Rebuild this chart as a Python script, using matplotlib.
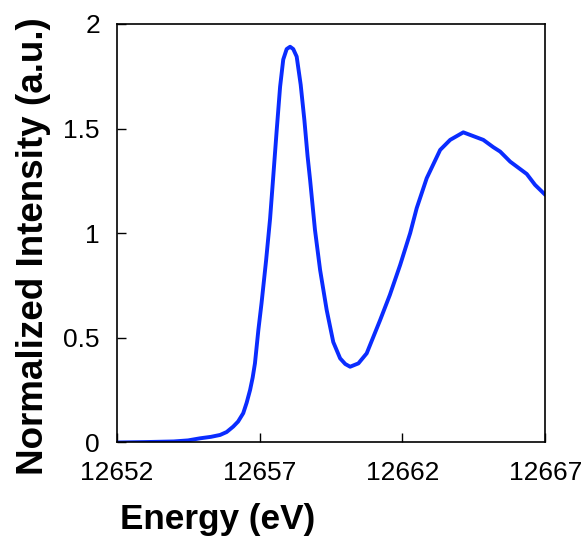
import numpy as np
import matplotlib
matplotlib.use('Agg')
import matplotlib.pyplot as plt

# values
energy = [12652.0, 12653.0, 12654.0, 12654.5, 12654.92, 12655.3, 12655.62, 12655.85,
          12656.08, 12656.25, 12656.43, 12656.55, 12656.67, 12656.76, 12656.84,
          12656.96, 12657.07, 12657.23, 12657.37, 12657.48, 12657.6, 12657.72,
          12657.83, 12657.95, 12658.07, 12658.18, 12658.3, 12658.44, 12658.57,
          12658.68, 12658.77, 12658.94, 12659.12, 12659.35, 12659.58,
          12659.82, 12660.0, 12660.17, 12660.46, 12660.75, 12661.22, 12661.56,
          12661.92, 12662.27, 12662.5, 12662.85, 12663.32, 12663.67, 12664.13,
          12664.83, 12665.18, 12665.42, 12665.77, 12666.35, 12666.64, 12667.0]
intensity = [0.0, 0.002, 0.005, 0.01, 0.02, 0.027, 0.036, 0.05,
             0.076, 0.1, 0.14, 0.19, 0.251, 0.31, 0.378,
             0.538, 0.665, 0.87, 1.07, 1.27, 1.49, 1.70,
             1.83, 1.88, 1.891, 1.88, 1.844, 1.71, 1.54,
             1.37, 1.254, 1.016, 0.824, 0.633, 0.48,
             0.402, 0.375, 0.362, 0.378, 0.426, 0.585, 0.705,
             0.848, 1.0, 1.12, 1.263, 1.398, 1.446, 1.482,
             1.446, 1.411, 1.39, 1.342, 1.283, 1.231, 1.183]
xticks = [12652, 12657, 12662, 12667]
yticks = [0, 0.5, 1, 1.5, 2]
yticklabels = ['0', '0.5', '1', '1.5', '2']

plt.rcParams['font.family'] = ['Liberation Sans', 'DejaVu Sans']

fig = plt.figure(figsize=(5.86, 5.44), dpi=100)
ax = fig.add_axes([0.199, 0.1866, 0.7316, 0.7694])

ax.plot(energy, intensity, '-', color='#0a2cff', lw=2.8,
        solid_joinstyle='round', solid_capstyle='round')

ax.set_xlim(12652, 12667)
ax.set_ylim(0, 2)
ax.set_xticks(xticks)
ax.set_xticklabels([str(t) for t in xticks])
ax.set_yticks(yticks)
ax.set_yticklabels(yticklabels)
ax.tick_params(direction='in', length=6.5, width=1, labelsize=19, pad=12)
ax.xaxis.set_tick_params(pad=13)
for s in ax.spines.values():
    s.set_linewidth(1.2)

ax.set_xlabel('Energy (eV)', fontsize=25.3, fontweight='bold', va='center')
ax.xaxis.set_label_coords(0.235, -0.185)
ax.set_ylabel('Normalized Intensity (a.u.)', fontsize=26.5, fontweight='bold', va='center')
ax.yaxis.set_label_coords(-0.195, 0.47)

fig.savefig('out.png', dpi=100)
